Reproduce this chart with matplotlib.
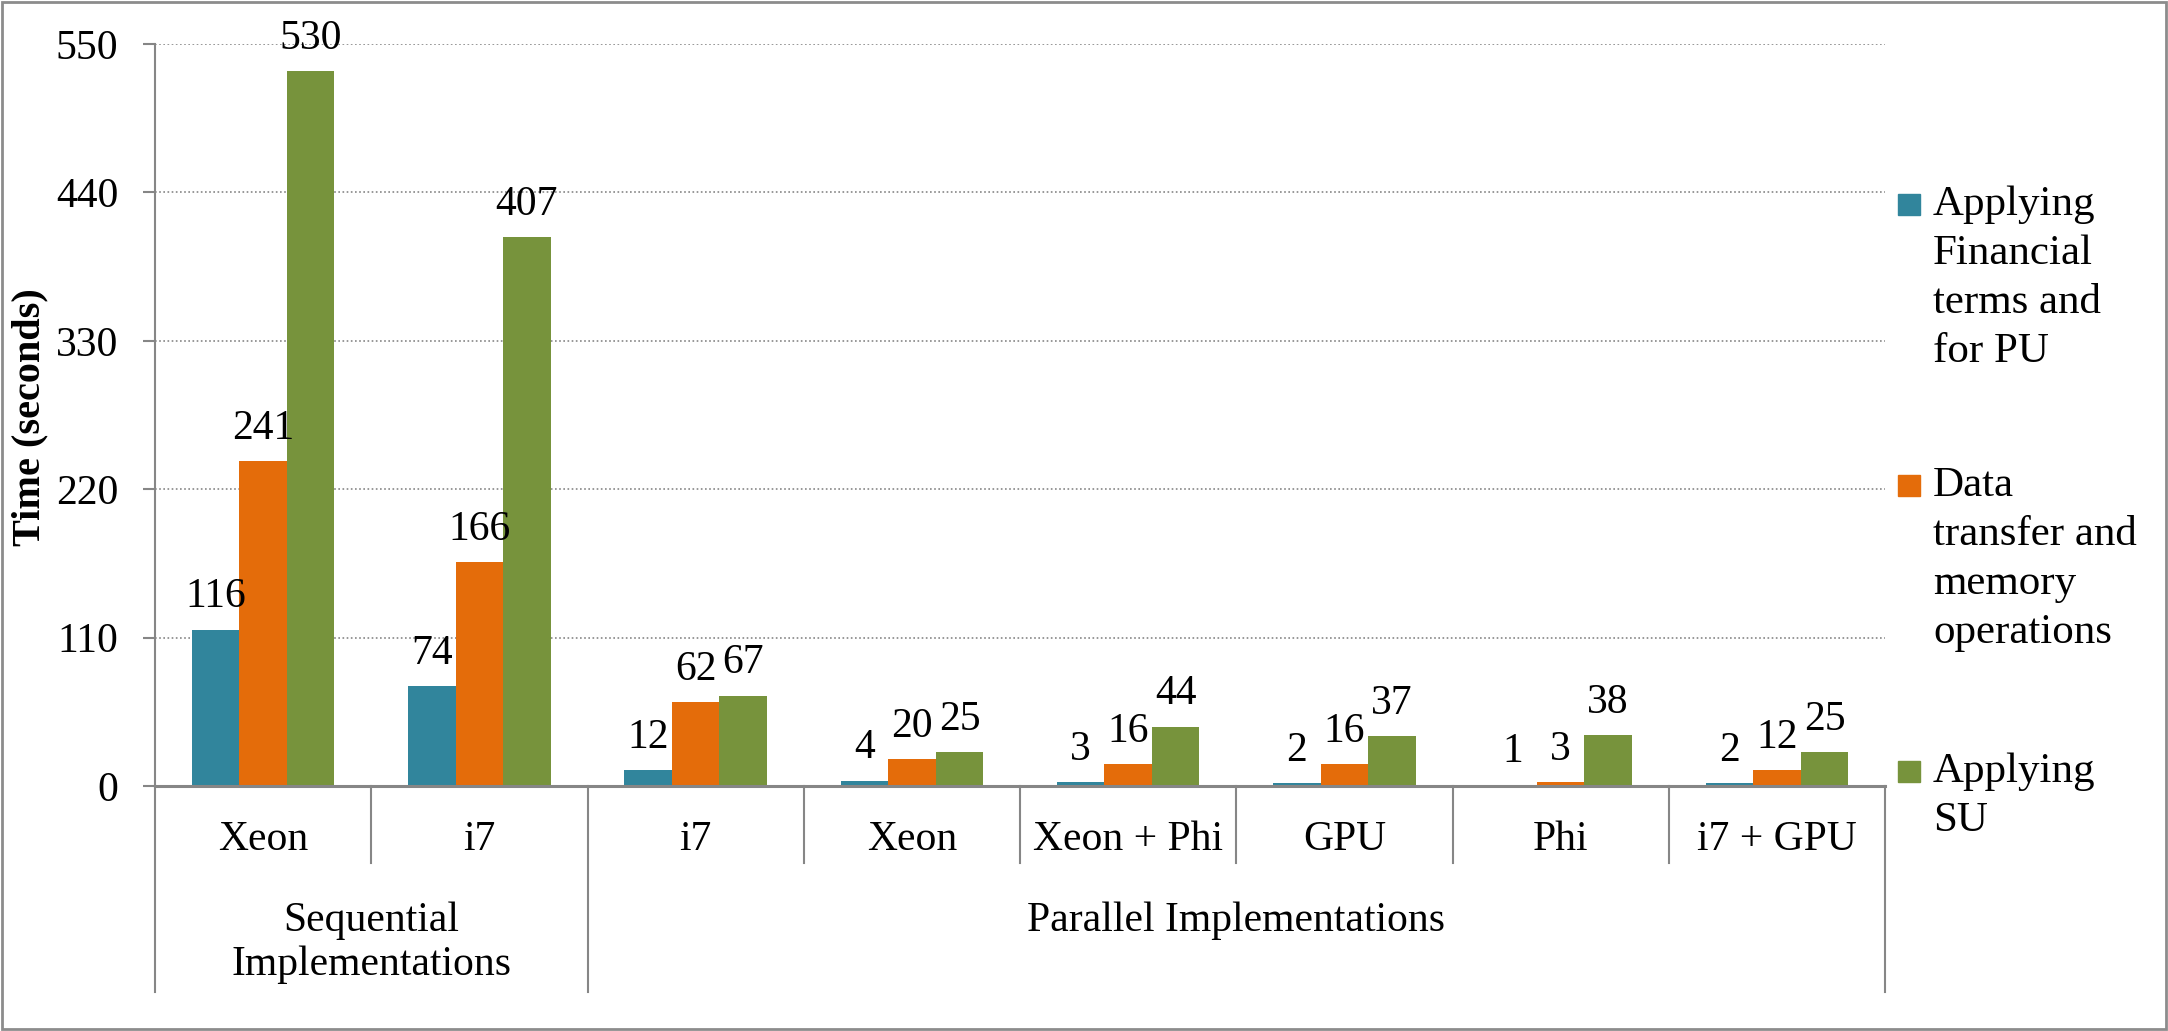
import matplotlib
matplotlib.use('Agg')
import matplotlib.pyplot as plt
import matplotlib.transforms as mtransforms
from matplotlib.patches import Rectangle
import numpy as np

plt.rcParams['font.family'] = ['Liberation Serif', 'DejaVu Serif']

# data
categories = ['Xeon', 'i7', 'i7', 'Xeon', 'Xeon + Phi', 'GPU', 'Phi', 'i7 + GPU']
groups = ['Sequential\nImplementations', 'Parallel Implementations']
group_spans = [(0, 1), (2, 7)]
series_names = ['Applying\nFinancial\nterms and\nfor PU',
                'Data\ntransfer and\nmemory\noperations',
                'Applying\nSU']
financial_pu = [116, 74, 12, 4, 3, 2, 1, 2]
data_transfer = [241, 166, 62, 20, 16, 16, 3, 12]
applying_su = [530, 407, 67, 25, 44, 37, 38, 25]
yticks = [0, 110, 220, 330, 440, 550]

colors = ['#31859C', '#E46C0A', '#77933C']
GRAY = '#868686'
W, H = 2168, 1031
FS = 30

fig = plt.figure(figsize=(W / 100, H / 100), dpi=100)
ax = fig.add_axes([155 / W, 1 - 786 / H, 1730 / W, 742 / H])

x = np.arange(len(categories))
bw = 0.22
series = [financial_pu, data_transfer, applying_su]
for i, (vals, c) in enumerate(zip(series, colors)):
    xs = x + (i - 1) * bw
    ax.bar(xs, vals, width=bw, color=c, zorder=3)
    for xi, v in zip(xs, vals):
        ax.annotate(f'{v}', (xi, v), xytext=(0, 16), textcoords='offset points',
                    ha='center', va='baseline', fontsize=FS, zorder=5)

ax.set_xlim(-0.5, len(categories) - 0.5)
ax.set_ylim(0, 550)
ax.set_yticks(yticks)
ax.yaxis.grid(True, color=GRAY, linestyle=(0, (1, 1.5)), linewidth=1.2, zorder=0)
ax.tick_params(axis='y', direction='out', length=8.5, width=1.5, color=GRAY,
               labelsize=FS, pad=18)
ax.tick_params(axis='x', bottom=False, labelbottom=False)
for s in ['top', 'right']:
    ax.spines[s].set_visible(False)
ax.spines['left'].set_color(GRAY)
ax.spines['left'].set_linewidth(1.5)
ax.spines['bottom'].set_color(GRAY)
ax.spines['bottom'].set_linewidth(2.2)
ax.spines['bottom'].set_zorder(4)

# two level category axis
tr = mtransforms.blended_transform_factory(ax.transData, ax.transAxes)
inner_y = (786 - 863) / 742
outer_y = (786 - 992) / 742
outer_edges = [-0.5] + [g[1] + 0.5 for g in group_spans]
for e in np.arange(-0.5, len(categories), 1.0):
    y1 = outer_y if e in outer_edges else inner_y
    ax.plot([e, e], [0, y1], color=GRAY, lw=1.5, transform=tr, clip_on=False)
for xi, lab in zip(x, categories):
    ax.text(xi, (786 - 840) / 742, lab, transform=tr, ha='center', va='center',
            fontsize=FS)
for lab, (a, b) in zip(groups, group_spans):
    ax.text((a + b) / 2, (786 - 901) / 742, lab, transform=tr, ha='center',
            va='top', fontsize=FS, linespacing=1.2)

# y label
fig.text(30 / W, 1 - 417 / H, 'Time (seconds)', rotation=90, ha='center',
         va='center', fontsize=29, fontweight='bold')

# legend
first_baselines = [215, 496, 782]
for name, c, b in zip(series_names, colors, first_baselines):
    fig.patches.append(Rectangle((1898 / W, 1 - b / H), 22 / W, 21 / H,
                                 transform=fig.transFigure, color=c))
    for k, line in enumerate(name.split('\n')):
        fig.text(1933 / W, 1 - (b + 49 * k) / H, line, ha='left',
                 va='baseline', fontsize=31)

# outer border
fig.patches.append(Rectangle((1.5 / W, 2 / H), 2164 / W, 1027 / H,
                             transform=fig.transFigure, fill=False,
                             edgecolor='#8c8c8c', lw=2))

fig.savefig('out.png', dpi=100)
